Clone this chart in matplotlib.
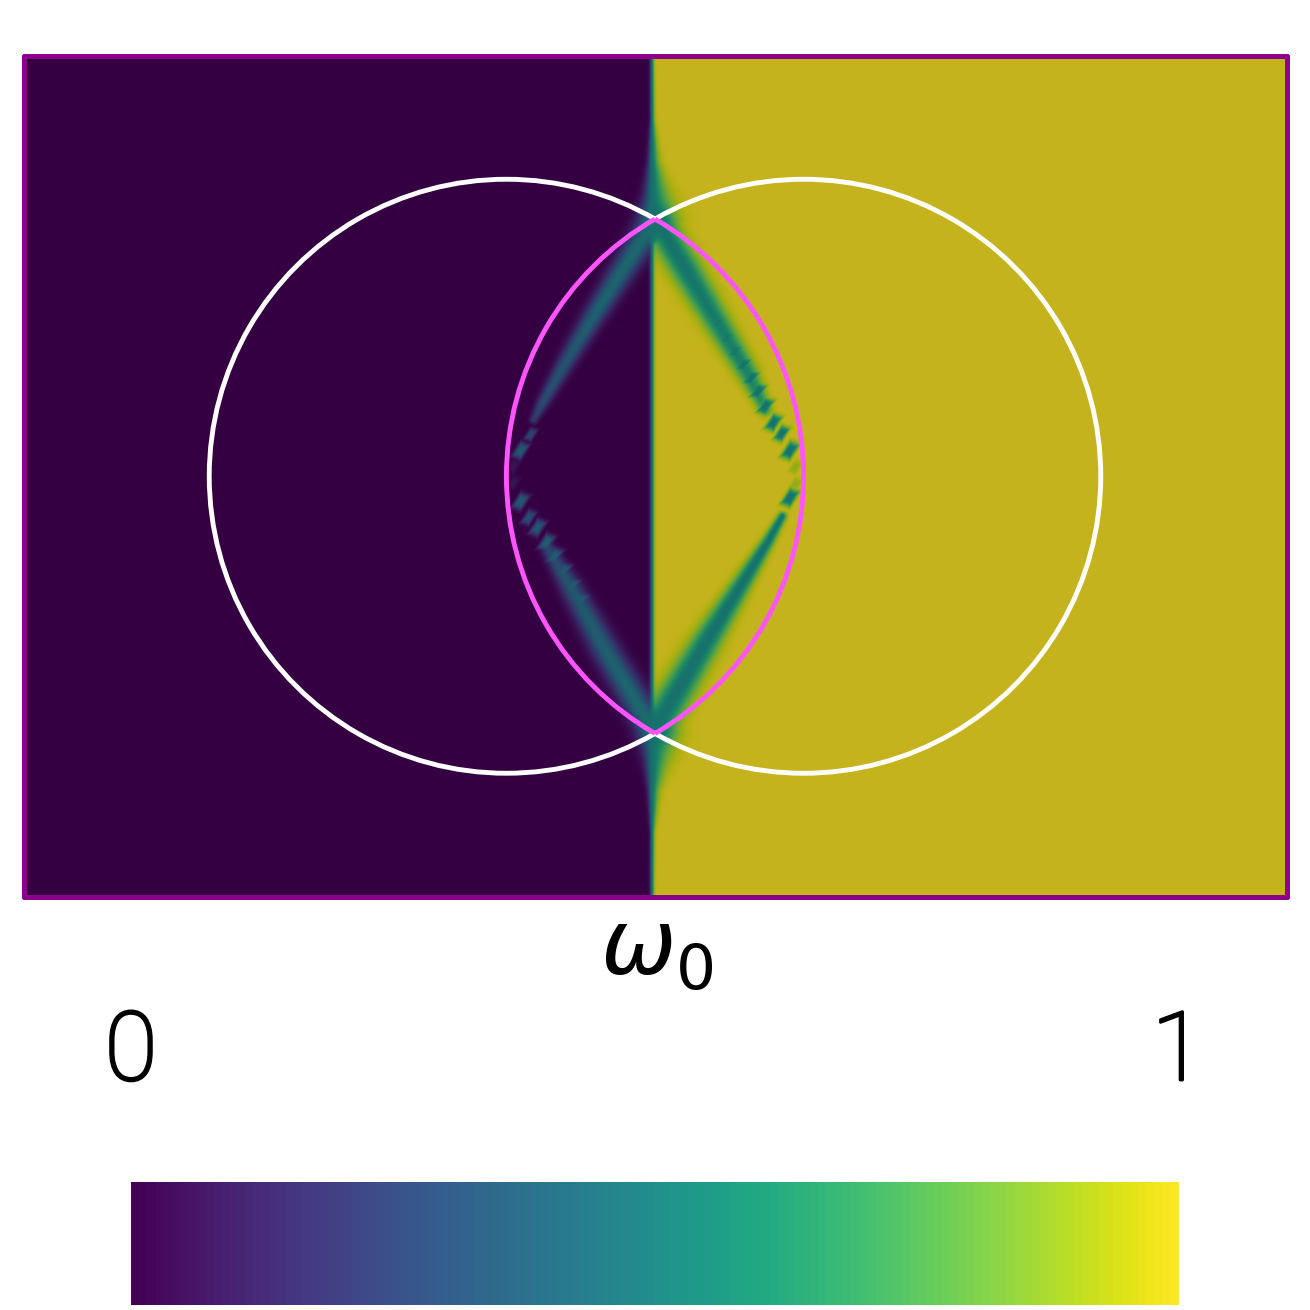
import numpy as np
import matplotlib
matplotlib.use('Agg')
import matplotlib.pyplot as plt
import matplotlib.patheffects as pe
from matplotlib.colors import ListedColormap
from matplotlib.patches import Arc

# circle centres / radius (domain units)
circle_x = [-0.5, 0.5]
circle_r = 1.0
white_arcs = [(60, 300), (-120, 120)]
pink_arcs = [(-60, 60), (120, 240)]

# domain
x_lim = [-2.125, 2.125]
y_lim = [-1.4167, 1.4167]

# vertical front: position and widths against |y|
front_x = -0.012
front_y = [0.0, 0.78, 0.866, 0.95, 1.06, 1.2, 1.42]
front_wr = [0.007, 0.007, 0.060, 0.046, 0.020, 0.008, 0.006]
front_wl = [0.006, 0.006, 0.030, 0.024, 0.012, 0.006, 0.006]

# streak centre lines: x, y, half width, strength
ur_x = [0.000, 0.100, 0.195, 0.310, 0.370]
ur_y = [0.866, 0.700, 0.540, 0.348, 0.225]
ur_w = [0.048, 0.048, 0.042, 0.034, 0.022]
ur_p = [1.00, 0.95, 0.88, 0.80, 0.65]

lr_x = [0.000, 0.170, 0.377, 0.427]
lr_y = [-0.850, -0.560, -0.224, -0.136]
lr_w = [0.056, 0.044, 0.020, 0.014]
lr_p = [1.00, 1.00, 0.98, 0.95]

ul_x = [-0.012, -0.195, -0.295, -0.378, -0.410]
ul_y = [0.850, 0.560, 0.395, 0.250, 0.190]
ul_w = [0.044, 0.034, 0.028, 0.020, 0.014]
ul_p = [0.95, 0.85, 0.72, 0.62, 0.45]

ll_x = [-0.012, -0.175, -0.285, -0.365]
ll_y = [-0.850, -0.575, -0.375, -0.240]
ll_w = [0.046, 0.042, 0.034, 0.022]
ll_p = [0.95, 0.82, 0.72, 0.58]

# broken up cells along the streaks: x, y, size, strength
cell_x = [0.210, 0.240, 0.268, 0.296, 0.322, 0.345, 0.370, 0.397, 0.425, 0.453, 0.471, 0.471, 0.453,
          -0.420, -0.454, -0.478, -0.478, -0.454, -0.427, -0.397, -0.367, -0.340, -0.310, -0.280, -0.250]
cell_y = [0.515, 0.465, 0.420, 0.375, 0.330, 0.285, 0.235, 0.180, 0.143, 0.086, 0.030, -0.029, -0.073,
          0.140, 0.086, 0.032, -0.022, -0.086, -0.140, -0.174, -0.224, -0.270, -0.320, -0.370, -0.420]
cell_s = [0.028, 0.028, 0.030, 0.030, 0.030, 0.030, 0.030, 0.030, 0.028, 0.032, 0.026, 0.026, 0.032,
          0.024, 0.030, 0.026, 0.026, 0.030, 0.027, 0.030, 0.030, 0.030, 0.030, 0.030, 0.030]
cell_p = [0.92, 0.92, 0.92, 0.95, 1.0, 1.0, 1.0, 1.0, 1.0, 1.0, 0.2, 0.2, 1.0,
          0.55, 0.75, 0.14, 0.14, 0.75, 0.65, 0.75, 0.8, 0.8, 0.78, 0.78, 0.78]
cell_lean = 0.6

# colorbar
cbar_levels = 128
cbar_labels = ['0', '1']
title = r'$\omega_0$'

nx, ny = 1263, 842
X, Y = np.meshgrid(np.linspace(x_lim[0], x_lim[1], nx), np.linspace(y_lim[1], y_lim[0], ny))


def streak_strength(px, py, pw, pp):
    out = np.zeros_like(X)
    for i in range(len(px) - 1):
        ax_, ay_ = px[i], py[i]
        dx, dy = px[i + 1] - ax_, py[i + 1] - ay_
        t = np.clip(((X - ax_) * dx + (Y - ay_) * dy) / (dx * dx + dy * dy), 0, 1)
        d = np.hypot(X - ax_ - t * dx, Y - ay_ - t * dy)
        w = pw[i] + t * (pw[i + 1] - pw[i])
        p = pp[i] + t * (pp[i + 1] - pp[i])
        out = np.maximum(out, p * np.exp(-(d / w) ** 2))
    return out


dx_front = X - front_x
wr = np.interp(np.abs(Y), front_y, front_wr)
wl = np.interp(np.abs(Y), front_y, front_wl)
field = np.where(dx_front > 0,
                 1 - 0.5 * np.exp(-(dx_front / wr) ** 1.5),
                 0.5 * np.exp(-(-dx_front / wl) ** 1.5))

s = np.zeros_like(X)
for path in [(ur_x, ur_y, ur_w, ur_p), (lr_x, lr_y, lr_w, lr_p),
             (ul_x, ul_y, ul_w, ul_p), (ll_x, ll_y, ll_w, ll_p)]:
    s = np.maximum(s, streak_strength(*path))
for cx, cy, cs, cp in zip(cell_x, cell_y, cell_s, cell_p):
    # all cells lean the same way, the mesh diagonal
    d = (np.abs(X - cx) + np.abs(Y - cy - cell_lean * (X - cx))) / cs
    s = np.maximum(s, cp * np.exp(-d ** 3))
field = field + (0.5 - field) * s

# the field is shown dimmed, the colorbar is not
base = plt.get_cmap('viridis')(np.linspace(0, 1, 256))
dim = base.copy()
dim[:, :3] = dim[:, :3] * 0.775
dim_cmap = ListedColormap(dim)

fig = plt.figure(figsize=(13.1, 13.1), dpi=100)
ax = fig.add_axes([23.5 / 1310, (1310 - 897) / 1310, 1263 / 1310, 841.5 / 1310])
ax.imshow(field, extent=[x_lim[0], x_lim[1], y_lim[0], y_lim[1]], cmap=dim_cmap, vmin=0, vmax=1,
          aspect='auto', interpolation='bilinear')
for cx, arc in zip(circle_x, white_arcs):
    ax.add_patch(Arc((cx, 0), 2 * circle_r, 2 * circle_r, theta1=arc[0], theta2=arc[1], color='white', lw=3.5))
for cx, arc in zip(circle_x, pink_arcs):
    ax.add_patch(Arc((cx, 0), 2 * circle_r, 2 * circle_r, theta1=arc[0], theta2=arc[1], color='#ff55ff', lw=3.5))
ax.set_xlim(x_lim)
ax.set_ylim(y_lim)
ax.set_xticks([])
ax.set_yticks([])
for sp in ax.spines.values():
    sp.set_color('#8b008b')
    sp.set_linewidth(3.6)
    sp.set_capstyle('round')

cax = fig.add_axes([131 / 1310, (1310 - 1305) / 1310, 1048 / 1310, 123 / 1310])
cax.imshow(np.linspace(0, 1, cbar_levels)[None, :], cmap='viridis', vmin=0, vmax=1, aspect='auto',
           interpolation='nearest')
cax.axis('off')

# light face thickened to the stroke of the reference digits
thick = [pe.withStroke(linewidth=2.0, foreground='black')]
fig.text(131 / 1310, 1 - 1080 / 1310, cbar_labels[0], family='Roboto', fontweight='light', fontsize=69,
         ha='center', va='baseline', color='black', path_effects=thick)
fig.text(1178 / 1310, 1 - 1080 / 1310, cbar_labels[1], family='Roboto', fontweight='light', fontsize=69,
         ha='center', va='baseline', color='black', path_effects=thick)
fig.text(657 / 1310, 1 - 975 / 1310, title, fontsize=65, ha='center', va='baseline', color='black')

fig.savefig('out.png', dpi=100)
